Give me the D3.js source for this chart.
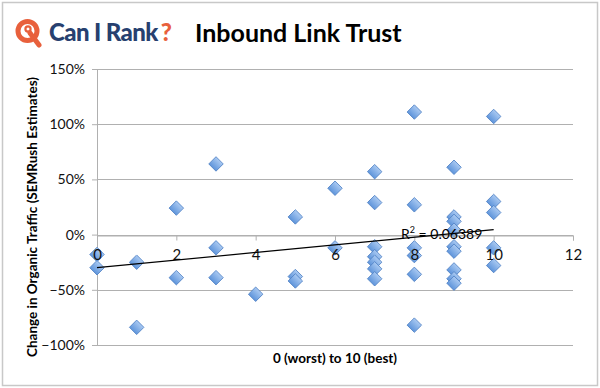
<!DOCTYPE html>
<html>
<head>
<meta charset="utf-8">
<script src="https://cdn.jsdelivr.net/npm/d3@7"></script>
<style>
  body { margin: 0; background: #fff; }
  svg { display: block; font-family: Lato, "Open Sans", sans-serif; }
</style>
</head>
<body>
<div class="chart"></div>
<script>
// link trust score (0 worst .. 10 best) for each site
const scores = [0, 0, 1, 1, 2, 2, 3, 3, 3, 4, 5, 5, 5, 6, 6,
  7, 7, 7, 7, 7, 7, 7, 8, 8, 8, 8, 8, 8,
  9, 9, 9, 9, 9, 9, 9, 9, 9, 10, 10, 10, 10, 10];
// change in organic traffic, fraction
const changes = [-0.18, -0.30, -0.25, -0.84, 0.24, -0.39, 0.64, -0.12, -0.39, -0.54, 0.16, -0.38, -0.42, 0.42, -0.12,
  0.57, 0.29, -0.11, -0.20, -0.25, -0.31, -0.40, 1.11, 0.27, -0.12, -0.19, -0.36, -0.82,
  0.61, 0.16, 0.12, 0.04, -0.11, -0.15, -0.32, -0.40, -0.44, 1.07, 0.30, 0.20, -0.12, -0.28];
const xTicks = [0, 2, 4, 6, 8, 10, 12];
const yTicks = [-1, -0.5, 0, 0.5, 1, 1.5];
// linear trend line as drawn in the picture
const trendX = [0, 10];
const trendY = [-0.30, 0.045];
const rSquared = "0.06389";

const W = 600, H = 388;
const svg = d3.select(".chart").append("svg").attr("width", W).attr("height", H);

// outer frame
svg.append("rect").attr("x", 2.5).attr("y", 2.5).attr("width", 595).attr("height", 383)
  .attr("fill", "#fff").attr("stroke", "#c8c8c8").attr("stroke-width", 1.5);

const defs = svg.append("defs");
const grad = defs.append("linearGradient").attr("id", "dia").attr("x1", 0).attr("y1", 0).attr("x2", 0).attr("y2", 1);
grad.append("stop").attr("offset", "0%").attr("stop-color", "#a9c9f2");
grad.append("stop").attr("offset", "100%").attr("stop-color", "#5f95db");

// header: logo + title
const logo = svg.append("g");
logo.append("circle").attr("cx", 27.5).attr("cy", 31).attr("r", 9.5)
  .attr("fill", "none").attr("stroke", "#e8603c").attr("stroke-width", 5);
logo.append("circle").attr("cx", 28).attr("cy", 29).attr("r", 2.6)
  .attr("fill", "none").attr("stroke", "#e8603c").attr("stroke-width", 2.2);
logo.append("path").attr("d", "M30,33 L39,45").attr("stroke", "#e8603c")
  .attr("stroke-width", 5).attr("stroke-linecap", "round");
const logoText = logo.append("text").attr("x", 49).attr("y", 41)
  .attr("font-family", "Lato, sans-serif").attr("font-weight", 900).attr("font-size", 24)
  .attr("fill", "#27406f").attr("letter-spacing", -0.6);
logoText.append("tspan").text("Can I Rank");
logoText.append("tspan").attr("fill", "#e8603c").attr("dx", 3).text("?");

svg.append("text").attr("x", 195).attr("y", 42)
  .attr("font-family", "Lato, sans-serif").attr("font-weight", 700).attr("font-size", 25)
  .attr("fill", "#000").text("Inbound Link Trust");

// scales
const x = d3.scaleLinear().domain([0, 12]).range([97, 573]);
const y = d3.scaleLinear().domain([-1, 1.5]).range([345, 69]);

// gridlines
svg.append("g").selectAll("line").data(yTicks).join("line")
  .attr("x1", x(0)).attr("x2", x(12))
  .attr("y1", d => Math.round(y(d)) + 0.5).attr("y2", d => Math.round(y(d)) + 0.5)
  .attr("stroke", "#b0b0b0").attr("stroke-width", 1);

// y axis
const yAxis = d3.axisLeft(y).tickValues(yTicks).tickFormat(d3.format(".0%")).tickSize(5).tickPadding(7);
const yG = svg.append("g").attr("transform", `translate(${x(0)},0)`).call(yAxis);
yG.select(".domain").attr("stroke", "#b0b0b0");
yG.selectAll(".tick line").attr("stroke", "#b0b0b0");
yG.selectAll(".tick text").attr("font-size", 14).attr("font-family", "Lato, sans-serif").attr("fill", "#111");

// points (square rotated 45deg like Excel's diamond marker)
const diamond = d3.symbol().type(d3.symbolSquare).size(105);
svg.append("g").selectAll("path").data(scores.map((s, i) => [s, changes[i]])).join("path")
  .attr("d", diamond)
  .attr("transform", d => `translate(${x(d[0])},${y(d[1])}) rotate(45)`)
  .attr("fill", "url(#dia)").attr("stroke", "#4f81c4").attr("stroke-width", 0.8);

// x axis sits on the 0% line, labels drawn over the markers
const xAxis = d3.axisBottom(x).tickValues(xTicks).tickSize(5).tickPadding(9);
const xG = svg.append("g").attr("transform", `translate(0,${Math.round(y(0)) + 0.5})`).call(xAxis);
xG.select(".domain").attr("stroke", "#b0b0b0");
xG.selectAll(".tick line").attr("stroke", "#b0b0b0");
xG.selectAll(".tick text").attr("font-size", 15).attr("font-family", "Lato, sans-serif").attr("fill", "#111");

// trend line + R²
svg.append("line")
  .attr("x1", x(trendX[0])).attr("y1", y(trendY[0]))
  .attr("x2", x(trendX[1])).attr("y2", y(trendY[1]))
  .attr("stroke", "#000").attr("stroke-width", 1.2);

const r2 = svg.append("text").attr("x", 401).attr("y", 239)
  .attr("font-size", 14).attr("font-family", "Lato, sans-serif").attr("fill", "#000");
r2.append("tspan").text("R");
r2.append("tspan").attr("font-size", 9).attr("dy", -6).text("2");
r2.append("tspan").attr("dy", 6).text(" = " + rSquared);

// axis titles
svg.append("text").attr("x", 335).attr("y", 363).attr("text-anchor", "middle")
  .attr("font-size", 13.5).attr("font-weight", 700).attr("font-family", "Lato, sans-serif")
  .text("0 (worst) to 10 (best)");

svg.append("text").attr("transform", "translate(37,217) rotate(-90)").attr("text-anchor", "middle")
  .attr("font-size", 13.5).attr("font-weight", 700).attr("font-family", "Lato, sans-serif")
  .text("Change in Organic Traffic (SEMRush Estimates)");
</script>
</body>
</html>
